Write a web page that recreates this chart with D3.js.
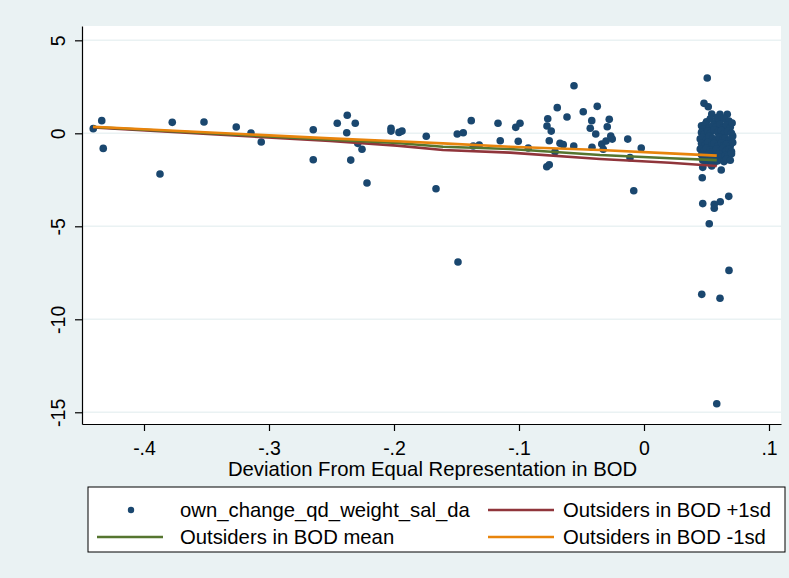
<!DOCTYPE html>
<html>
<head>
<meta charset="utf-8">
<script src="https://cdn.jsdelivr.net/npm/d3@7"></script>
<style>
  body { margin: 0; background: #eaf2f3; }
  svg { display: block; font-family: "Liberation Sans", Arial, sans-serif; }
</style>
</head>
<body>
<div id="graph"></div>
<script>
var width = 789, height = 578;

// tick values
var xTicks = [-0.4, -0.3, -0.2, -0.1, 0, 0.1];
var yTicks = [5, 0, -5, -10, -15];

// scatter: own_change_qd_weight_sal_da, points left of zero
var leftPoints = [
  [-0.4406, 0.25], [-0.4338, 0.68], [-0.4326, -0.81], [-0.3872, -2.19], [-0.3774, 0.59],
  [-0.352, 0.61], [-0.3262, 0.34], [-0.3144, 0.02], [-0.3062, -0.47], [-0.2646, 0.19],
  [-0.2646, -1.42], [-0.2454, 0.54], [-0.2374, 0.97], [-0.2378, 0.03], [-0.231, 0.54],
  [-0.2346, -1.44], [-0.229, -0.54], [-0.2256, -0.86], [-0.2216, -2.67], [-0.2024, 0.27],
  [-0.2024, 0.12], [-0.196, 0.05], [-0.1936, 0.12], [-0.1742, -0.16], [-0.1664, -2.98],
  [-0.1488, -6.92], [-0.1494, -0.04], [-0.1446, 0.03], [-0.1382, 0.68], [-0.1366, -0.68],
  [-0.1318, -0.63], [-0.1168, 0.54], [-0.115, -0.40], [-0.1026, 0.32], [-0.0992, 0.54],
  [-0.1006, -0.43], [-0.0926, -0.79], [-0.0778, -1.80], [-0.0758, -1.69], [-0.077, 0.78],
  [-0.0776, 0.39], [-0.0742, 0.12], [-0.0758, -0.40], [-0.0712, -0.99], [-0.0694, 1.38],
  [-0.0672, -0.54], [-0.0646, -0.61], [-0.0616, 0.88], [-0.0562, -0.68], [-0.056, 2.56],
  [-0.0486, 1.16], [-0.0418, 0.68], [-0.043, 0.27], [-0.0386, -0.04], [-0.0416, -0.75],
  [-0.0374, 1.45], [-0.0278, 0.75], [-0.0294, 0.35], [-0.0338, -0.58], [-0.0304, -0.41],
  [-0.0266, -0.15], [-0.0254, -0.31], [-0.0326, -0.86], [-0.013, -0.31], [-0.0112, -1.31],
  [-0.0082, -3.09], [-0.0022, -0.79]
];

// scatter: the dense group right of zero
var clusterPoints = [
  [0.0506, 2.97], [0.048, 1.61], [0.0514, 1.43], [0.0542, 1.04], [0.0608, 1.02], [0.0666, 1.02],
  [0.050, 0.62], [0.053, 0.78], [0.057, 0.55], [0.060, 0.72], [0.064, 0.80], [0.068, 0.66],
  [0.046, 0.40], [0.049, 0.48], [0.052, 0.30], [0.055, 0.42], [0.058, 0.35], [0.061, 0.50],
  [0.063, 0.28], [0.066, 0.45], [0.069, 0.32], [0.047, 0.20], [0.0705, 0.55], [0.0585, 0.85],
  [0.046, 0.05], [0.048, -0.05], [0.051, 0.12], [0.053, 0.0], [0.056, 0.18], [0.059, 0.05],
  [0.062, 0.15], [0.064, -0.02], [0.067, 0.10], [0.070, 0.0], [0.071, -0.15],
  [0.045, -0.30], [0.047, -0.22], [0.050, -0.35], [0.052, -0.18], [0.055, -0.28], [0.057, -0.40],
  [0.060, -0.20], [0.063, -0.33], [0.065, -0.25], [0.068, -0.38], [0.070, -0.30],
  [0.046, -0.55], [0.049, -0.62], [0.051, -0.50], [0.054, -0.66], [0.056, -0.55], [0.059, -0.70],
  [0.062, -0.52], [0.064, -0.64], [0.066, -0.58], [0.069, -0.68], [0.071, -0.50],
  [0.045, -0.85], [0.048, -0.95], [0.050, -0.80], [0.053, -0.90], [0.055, -1.0], [0.058, -0.85],
  [0.061, -0.95], [0.063, -0.82], [0.066, -0.92], [0.068, -0.86], [0.070, -0.98],
  [0.046, -1.15], [0.049, -1.25], [0.052, -1.10], [0.054, -1.22], [0.057, -1.30], [0.060, -1.12],
  [0.062, -1.28], [0.065, -1.18], [0.067, -1.25], [0.070, -1.10],
  [0.047, -1.45], [0.050, -1.55], [0.053, -1.42], [0.056, -1.60], [0.059, -1.48], [0.064, -1.52],
  [0.066, -1.40], [0.069, -1.45],
  [0.047, -1.83], [0.0542, -1.76], [0.0618, -1.97], [0.0466, -2.39],
  [0.047, -3.78], [0.0562, -3.82], [0.0562, -4.03], [0.061, -3.68], [0.0678, -3.39], [0.0522, -4.86],
  [0.068, -7.37], [0.0462, -8.66], [0.0608, -8.87], [0.0582, -14.54]
];

// fitted lines
var fitX     = [-0.4408, -0.2512, -0.1976, -0.1608, -0.1072, -0.0352, 0.0208, 0.0582];
var plus1sd  = [0.31, -0.41, -0.66, -0.90, -1.04, -1.38, -1.58, -1.76];
var meanFit  = [0.34, -0.34, -0.52, -0.72, -0.84, -1.17, -1.34, -1.44];
var minus1sd = [0.35, -0.27, -0.43, -0.54, -0.72, -0.90, -1.08, -1.20];

var navy = '#1a476f', maroon = '#90353b', green = '#55752f', orange = '#e8840c';

var plot = {left: 82, right: 781, top: 26, bottom: 424};

var svg = d3.select('#graph').append('svg')
  .attr('width', width).attr('height', height);

svg.append('rect').attr('width', width).attr('height', height).attr('fill', '#eaf2f3');
svg.append('rect')
  .attr('x', plot.left).attr('y', plot.top)
  .attr('width', plot.right - plot.left).attr('height', plot.bottom - plot.top)
  .attr('fill', '#fff');

var x = d3.scaleLinear().domain([-0.4496, 0.1096]).range([plot.left, plot.right]);
var y = d3.scaleLinear().domain([5.77, -15.63]).range([plot.top, plot.bottom]);

// grid
svg.append('g').selectAll('line').data(yTicks).enter().append('line')
  .attr('x1', plot.left).attr('x2', plot.right)
  .attr('y1', function(d){ return y(d); }).attr('y2', function(d){ return y(d); })
  .attr('stroke', '#eaf2f3').attr('stroke-width', 1.6);

// axes
function fmtX(d) {
  if (d === 0) return '0';
  return (d < 0 ? '-' : '') + String(Math.abs(d)).replace(/^0/, '');
}
var xAxis = svg.append('g').attr('transform', 'translate(0,' + plot.bottom + ')')
  .call(d3.axisBottom(x).tickValues(xTicks).tickFormat(fmtX).tickSize(7).tickSizeOuter(0));
xAxis.selectAll('text').attr('y', 31).attr('dy', 0)
  .style('font-size', '19.5px').attr('fill', '#000');

var yAxis = svg.append('g').attr('transform', 'translate(' + plot.left + ',0)')
  .call(d3.axisLeft(y).tickValues(yTicks).tickFormat(function(d){ return d < 0 ? '-' + Math.abs(d) : String(d); }).tickSize(7).tickSizeOuter(0));
yAxis.selectAll('text')
  .attr('x', 0).attr('dy', 0).attr('text-anchor', 'middle')
  .attr('transform', 'translate(-17,0) rotate(-90)')
  .style('font-size', '19.5px').attr('fill', '#000');

svg.selectAll('.domain').attr('stroke', '#000').attr('stroke-width', 1.2);
svg.selectAll('.tick line').attr('stroke', '#000').attr('stroke-width', 1.2);

svg.append('text')
  .attr('x', (plot.left + plot.right) / 2 + 1).attr('y', 476)
  .attr('text-anchor', 'middle').style('font-size', '20.3px')
  .text('Deviation From Equal Representation in BOD');

// scatter
svg.append('g').selectAll('circle').data(leftPoints.concat(clusterPoints)).enter().append('circle')
  .attr('cx', function(d){ return x(d[0]); })
  .attr('cy', function(d){ return y(d[1]); })
  .attr('r', 3.8)
  .attr('fill', navy);

// lines
var line = d3.line()
  .x(function(d){ return x(d[0]); })
  .y(function(d){ return y(d[1]); });
var series = [
  {vals: plus1sd, color: maroon},
  {vals: meanFit, color: green},
  {vals: minus1sd, color: orange}
];
series.forEach(function(s){
  svg.append('path')
    .datum(fitX.map(function(v, i){ return [v, s.vals[i]]; }))
    .attr('d', line)
    .attr('fill', 'none')
    .attr('stroke', s.color)
    .attr('stroke-width', 2.6);
});

// legend
var lg = svg.append('g');
lg.append('rect').attr('x', 88).attr('y', 487).attr('width', 697).attr('height', 65)
  .attr('fill', '#fff').attr('stroke', '#000').attr('stroke-width', 1);
lg.append('circle').attr('cx', 131).attr('cy', 510).attr('r', 3.2).attr('fill', navy);
var items = [
  {label: 'own_change_qd_weight_sal_da', tx: 180, ty: 510},
  {label: 'Outsiders in BOD +1sd', tx: 563, ty: 510, color: maroon, lx: 488},
  {label: 'Outsiders in BOD mean', tx: 180, ty: 537, color: green, lx: 97},
  {label: 'Outsiders in BOD -1sd', tx: 563, ty: 537, color: orange, lx: 488}
];
items.forEach(function(it){
  if (it.color) {
    lg.append('line').attr('x1', it.lx).attr('x2', it.lx + 66)
      .attr('y1', it.ty).attr('y2', it.ty)
      .attr('stroke', it.color).attr('stroke-width', 2.6);
  }
  lg.append('text').attr('x', it.tx).attr('y', it.ty).attr('dy', '0.35em')
    .style('font-size', '20.3px').text(it.label);
});
</script>
</body>
</html>
